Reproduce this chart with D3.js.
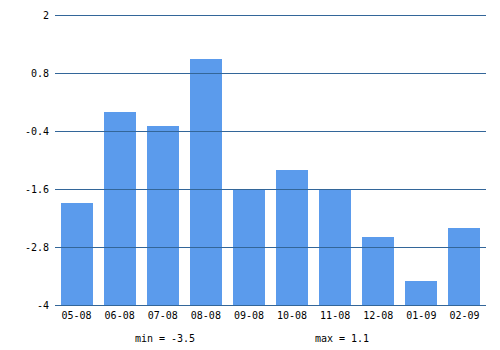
<!DOCTYPE html>
<html><head><meta charset="utf-8">
<script src="https://cdn.jsdelivr.net/npm/d3@7"></script>
<style>body{margin:0;background:#fff}svg{display:block}</style>
</head><body><svg id="c" width="500" height="350"></svg>
<script>
const categories = ["05-08","06-08","07-08","08-08","09-08","10-08","11-08","12-08","01-09","02-09"];
const values = [-1.9, 0.0, -0.3, 1.1, -1.6, -1.2, -1.6, -2.6, -3.5, -2.4];
const yTicks = [2, 0.8, -0.4, -1.6, -2.8, -4];
const minLabel = "min = -3.5";
const maxLabel = "max = 1.1";

(function(){
const svg = d3.select("#c");
const mL = 55, mR = 486, mT = 15, mB = 305;
const font = "'DejaVu Sans Mono', monospace";
const x = d3.scaleBand().domain(categories).range([mL, mR]).paddingInner(0.256).paddingOuter(0.128);
const y = d3.scaleLinear().domain([-4, 2]).range([mB, mT]);

svg.append("g").selectAll("rect").data(values).join("rect")
  .attr("x", (d,i) => Math.round(x(categories[i])))
  .attr("width", Math.round(x.bandwidth()))
  .attr("y", d => Math.round(y(d)))
  .attr("height", d => y(-4) - Math.round(y(d)))
  .attr("fill", "#5b9bec");

const yAxis = svg.append("g").attr("transform", `translate(${mL},0)`)
  .call(d3.axisLeft(y).tickValues(yTicks).tickSize(-(mR-mL)).tickPadding(6).tickFormat(d => String(d)));
yAxis.select(".domain").remove();
yAxis.selectAll("line").attr("stroke", "#336699").attr("stroke-width", 1);
yAxis.selectAll("text").attr("font-family", font).attr("font-size", 10).attr("fill", "#000");

const xAxis = svg.append("g").attr("transform", `translate(0,${mB})`)
  .call(d3.axisBottom(x).tickSize(0).tickPadding(7));
xAxis.select(".domain").remove();
xAxis.selectAll("text").attr("font-family", font).attr("font-size", 10).attr("fill", "#000");

svg.append("text").attr("x", 165).attr("y", 342).attr("text-anchor", "middle")
  .attr("font-family", font).attr("font-size", 10).text(minLabel);
svg.append("text").attr("x", 342).attr("y", 342).attr("text-anchor", "middle")
  .attr("font-family", font).attr("font-size", 10).text(maxLabel);
})();
</script></body></html>
